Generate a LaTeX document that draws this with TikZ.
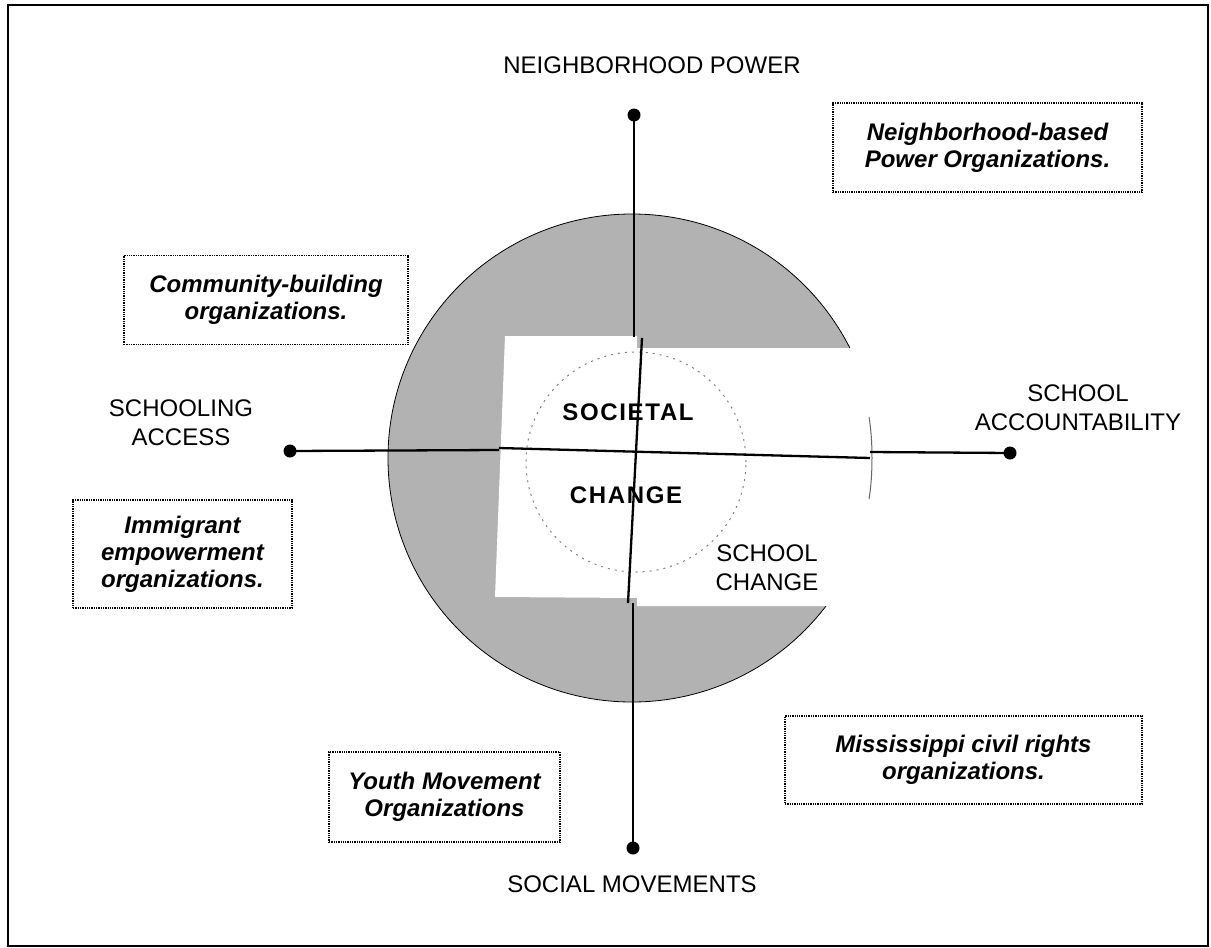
\documentclass[tikz,border=0pt]{standalone}
\usepackage{fontspec}
\setmainfont{Liberation Sans}
\newfontfamily\spacedfont[LetterSpace=7]{Liberation Sans}
\begin{document}
\begin{tikzpicture}[x=1pt,y=-1pt,
  axis/.style={line width=2.3pt, black},
  enddot/.style={circle, fill=black, inner sep=0pt, minimum size=13pt},
  orgbox/.style={draw, densely dotted, line width=1.3pt, align=center, inner sep=0pt,
    font=\fontsize{24}{27}\selectfont\bfseries\itshape},
  axislabel/.style={align=center, inner sep=0pt, font=\fontsize{24}{29}\selectfont},
  centerlabel/.style={inner sep=0pt, font=\fontsize{24}{29}\selectfont\spacedfont\bfseries}
]
\useasboundingbox (0,0) rectangle (1211,948);
\draw[line width=2.5pt] (8,5) rectangle (1208,946);

% shaded disc
\node[circle, draw, fill=black!30, line width=0.8pt, minimum size=488pt, inner sep=0pt] (disc) at (632,458) {};
% pasted white panel
\fill[white] (505,336) -- (637,336) -- (637,348) -- (900,348) -- (900,606) -- (637,606) -- (637,598) -- (495,597) -- cycle;
\draw[black!60, line width=1pt] (869,417) .. controls (873,440) and (873,476) .. (869,499);
% faint inner circle
\node[circle, draw=black!50, dash pattern=on 2pt off 5pt, line width=1pt, minimum size=220pt, inner sep=0pt] (inner) at (636,462) {};

% axes
\node[enddot] (top) at (634,115) {};
\node[enddot] (bot) at (633,848) {};
\node[enddot] (lft) at (290,451) {};
\node[enddot] (rgt) at (1010,453) {};
\coordinate (vt1) at (634,337);
\coordinate (vt2) at (642,338);
\coordinate (vb2) at (628,603);
\coordinate (vb1) at (633,603);
\coordinate (hl1) at (499,450);
\coordinate (hl2) at (499,448);
\coordinate (hr2) at (870,458);
\coordinate (hr1) at (870,452);
\draw[axis] (top.center) -- (vt1);
\draw[axis] (vt2) -- (vb2);
\draw[axis] (vb1) -- (bot.center);
\draw[axis] (lft.center) -- (hl1);
\draw[axis] (hl2) -- (hr2);
\draw[axis] (hr1) -- (rgt.center);

% axis labels
\node[axislabel] (np) at (652,65) {NEIGHBORHOOD POWER};
\node[axislabel] (sm) at (632,884) {SOCIAL MOVEMENTS};
\node[axislabel] (sa) at (181,423) {SCHOOLING\\ACCESS};
\node[axislabel] (sacc) at (1078,408) {SCHOOL\\ACCOUNTABILITY};
\node[axislabel] (sc) at (767,568) {SCHOOL\\CHANGE};
\node[centerlabel] (soc) at (628,412) {SOCIETAL};
\node[centerlabel] (chg) at (626,495) {CHANGE};

% organisation boxes
\node[orgbox, minimum width=309pt, minimum height=89pt] (nb) at (987.5,147.5) {Neighborhood-based\\Power Organizations.};
\node[orgbox, minimum width=284pt, minimum height=89pt] (cb) at (266,300) {Community-building\\organizations.};
\node[orgbox, minimum width=219pt, minimum height=108pt] (im) at (182.5,554) {Immigrant\\empowerment\\organizations.};
\node[orgbox, minimum width=357pt, minimum height=88pt] (ms) at (963.5,760) {Mississippi civil rights\\organizations.};
\node[orgbox, minimum width=231pt, minimum height=90pt] (yo) at (444.5,797) {Youth Movement\\Organizations};
\end{tikzpicture}
\end{document}
